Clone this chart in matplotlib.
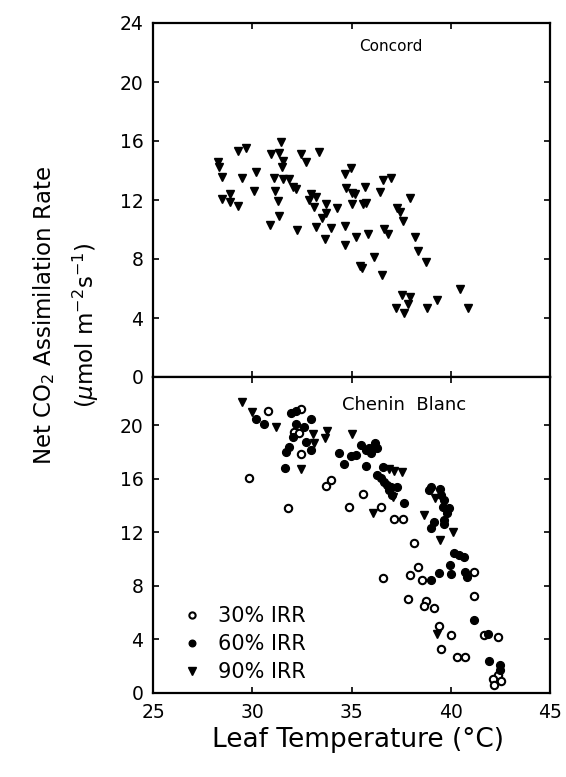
import matplotlib
matplotlib.use("Agg")
import matplotlib.pyplot as plt

# ---- Concord (top panel) ----
concord_x = [28.26, 28.34, 29.26, 29.70, 28.46, 29.48, 30.20, 28.89, 28.48, 28.88, 29.26, 30.07,
             31.46, 30.94, 31.36, 31.57, 31.52, 32.45, 32.71, 33.35, 31.12, 31.54, 31.86, 32.06,
             32.21, 31.16, 31.29, 31.36, 30.89, 32.25, 32.95, 33.20, 32.88, 33.13, 33.73, 34.26,
             33.70, 33.53, 33.20, 33.95, 33.65, 34.66, 34.66, 34.67, 34.71, 34.96, 35.03, 35.18,
             35.66, 36.60, 36.97, 36.42, 37.94, 35.01, 35.58, 35.73, 37.30, 37.44, 37.59, 35.21,
             35.83, 36.63, 36.85, 38.19, 38.36, 38.76, 36.13, 35.43, 35.53, 36.56, 40.46, 37.52,
             37.94, 39.32, 37.85, 37.25, 37.67, 38.81, 40.85]
concord_y = [14.60, 14.26, 15.32, 15.51, 13.58, 13.51, 13.92, 12.39, 12.09, 11.88, 11.61, 12.63,
             15.95, 15.10, 15.17, 14.64, 14.26, 15.10, 14.60, 15.27, 13.49, 13.42, 13.40, 12.90,
             12.73, 12.63, 11.95, 10.94, 10.31, 9.97, 12.39, 12.22, 12.00, 11.55, 11.73, 11.44,
             11.10, 10.80, 10.19, 10.12, 9.34, 10.24, 8.95, 13.74, 12.79, 14.19, 12.47, 12.41,
             12.90, 13.36, 13.51, 12.56, 12.12, 11.71, 11.71, 11.80, 11.48, 11.17, 10.58, 9.51,
             9.69, 10.03, 9.69, 9.51, 8.56, 7.78, 8.16, 7.55, 7.39, 6.92, 5.95, 5.56,
             5.41, 5.25, 4.95, 4.68, 4.32, 4.70, 4.68]

# ---- Chenin Blanc (bottom panel) ----
irr30_x = [30.77, 32.46, 32.11, 32.36, 32.45, 29.85, 33.95, 33.74, 31.82, 34.87, 35.59, 36.47,
           37.14, 37.59, 38.14, 36.58, 38.34, 37.95, 38.53, 41.16, 41.17, 37.85, 38.73, 38.63,
           39.14, 39.41, 40.00, 41.66, 42.37, 39.52, 40.29, 40.70, 42.36, 42.13, 42.53, 42.16]
irr30_y = [21.08, 21.19, 19.51, 19.40, 17.85, 16.03, 15.91, 15.46, 13.84, 13.88, 14.86, 13.87,
           12.97, 12.97, 11.22, 8.59, 9.41, 8.80, 8.47, 9.04, 7.26, 7.02, 6.89, 6.50,
           6.33, 5.03, 4.31, 4.31, 4.20, 3.26, 2.69, 2.69, 1.34, 1.05, 0.92, 0.60]

irr60_x = [30.19, 30.60, 31.94, 32.20, 32.98, 32.20, 32.61, 32.03, 32.70, 32.95, 31.86, 31.72,
           31.66, 34.37, 34.97, 34.60, 35.46, 35.71, 35.88, 36.17, 36.27, 35.96, 35.21, 35.71,
           36.60, 36.30, 36.47, 36.63, 36.80, 36.97, 37.30, 36.88, 37.05, 37.67, 39.01, 38.89,
           39.45, 39.51, 39.65, 39.61, 39.90, 39.81, 39.65, 39.68, 39.15, 38.98, 40.15, 40.40,
           40.65, 39.02, 39.40, 39.95, 40.02, 40.70, 40.82, 41.18, 41.87, 41.95, 42.46, 42.50]
irr60_y = [20.45, 20.09, 20.89, 21.06, 20.46, 20.07, 19.89, 19.14, 18.77, 18.15, 18.39, 18.02,
           16.83, 17.92, 17.68, 17.08, 18.52, 18.15, 18.30, 18.69, 18.27, 17.90, 17.77, 16.95,
           16.86, 16.28, 16.03, 15.78, 15.53, 15.41, 15.41, 15.16, 14.79, 14.21, 15.36, 15.16,
           15.21, 14.79, 14.41, 13.87, 13.79, 13.42, 12.92, 12.62, 12.79, 12.30, 10.49, 10.31,
           10.16, 8.44, 8.98, 9.54, 8.87, 9.01, 8.69, 5.43, 4.41, 2.39, 2.09, 1.72]

irr90_x = [29.48, 30.00, 31.19, 33.12, 33.08, 33.78, 33.68, 35.00, 32.48, 36.88, 37.14, 37.52,
           37.10, 36.08, 39.20, 38.64, 40.10, 39.45, 39.31]
irr90_y = [21.72, 21.01, 19.89, 18.65, 19.37, 19.53, 19.02, 19.37, 16.71, 16.71, 16.60, 16.53,
           14.62, 13.46, 14.54, 13.29, 12.05, 11.43, 4.43]

legend_labels = ["30% IRR", "60% IRR", "90% IRR"]
x_ticks = [25, 30, 35, 40, 45]
top_yticks = [0, 4, 8, 12, 16, 20, 24]
bot_yticks = [0, 4, 8, 12, 16, 20]

plt.rcParams['font.family'] = ['DejaVu Sans']

fig = plt.figure(figsize=(5.66, 7.77), dpi=100)
L, W = 153 / 566, 397 / 566
ax1 = fig.add_axes([L, 1 - 377 / 777, W, (377 - 23) / 777])
ax2 = fig.add_axes([L, 1 - 693 / 777, W, (693 - 377) / 777])

tri_kw = dict(linestyle='none', marker='v', color='black', ms=6)
ax1.plot(concord_x, concord_y, **tri_kw)

h30, = ax2.plot(irr30_x, irr30_y, linestyle='none', marker='o', mfc='white', mec='black',
                mew=1.5, ms=5.3, label=legend_labels[0])
h60, = ax2.plot(irr60_x, irr60_y, linestyle='none', marker='o', color='black', ms=5.6,
                label=legend_labels[1])
h90, = ax2.plot(irr90_x, irr90_y, label=legend_labels[2], **tri_kw)

for ax in (ax1, ax2):
    ax.set_xlim(25, 45)
    ax.set_xticks(x_ticks)
    ax.tick_params(direction='in', top=True, right=True, length=4, width=1.2,
                   labelsize=13.5, pad=7)
    for s in ax.spines.values():
        s.set_linewidth(1.6)

ax1.set_ylim(0, 24)
ax1.set_yticks(top_yticks)
ax1.tick_params(labelbottom=False)
ax2.set_ylim(0, 23.6)
ax2.set_yticks(bot_yticks)

ax1.text(37.0, 22.4, "Concord", ha='center', va='center', fontsize=11)
ax2.text(37.66, 21.5, "Chenin  Blanc", ha='center', va='center', fontsize=13)

ax2.legend(handles=[h30, h60, h90], loc='lower left', bbox_to_anchor=(0.0713, 0.035),
           frameon=False, fontsize=15, borderpad=0, borderaxespad=0, handlelength=1.0,
           handletextpad=0.78, labelspacing=0.38, markerscale=0.85)

fig.text(358 / 566, 1 - 740 / 777, "Leaf Temperature (\u00b0C)", ha='center', va='center',
         fontsize=19)
fig.text(44 / 566, 1 - 315 / 777, "Net CO$_2$ Assimilation Rate", rotation=90,
         ha='center', va='center', fontsize=16.5)
fig.text(86 / 566, 1 - 325 / 777, "($\\mu$mol m$^{-2}$s$^{-1}$)", rotation=90,
         ha='center', va='center', fontsize=16.5)

fig.savefig("out.png", dpi=100)
